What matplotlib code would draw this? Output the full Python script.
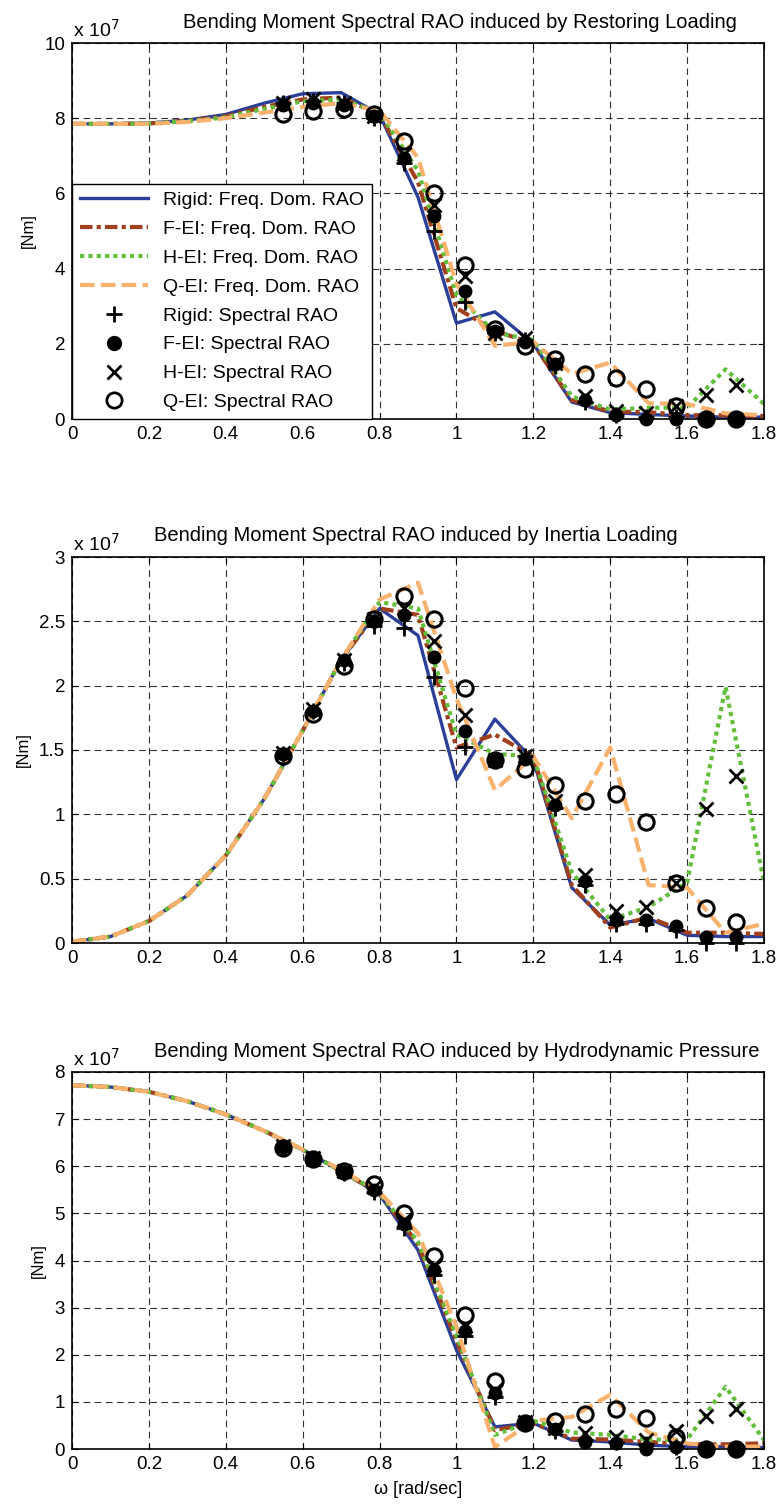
import numpy as np
import matplotlib.pyplot as plt
from matplotlib.lines import Line2D

plt.rcParams['font.family'] = ['Liberation Sans', 'DejaVu Sans']
plt.rcParams['axes.unicode_minus'] = False

# frequency-domain RAO curves (x 1e7 Nm)
w_freq = [0.0, 0.1, 0.2, 0.3, 0.4, 0.5, 0.6, 0.7, 0.8, 0.9,
          1.0, 1.1, 1.2, 1.3, 1.4, 1.5, 1.6, 1.7, 1.8]
# spectral RAO frequencies
w_spec = [0.550, 0.628, 0.707, 0.785, 0.864, 0.942, 1.021, 1.100,
          1.178, 1.257, 1.335, 1.414, 1.492, 1.571, 1.649, 1.728]

# --- restoring loading
rest_rigid = [7.85, 7.85, 7.87, 7.95, 8.1, 8.4, 8.65, 8.68, 8.1, 5.9,
              2.55, 2.85, 2.0, 0.45, 0.17, 0.12, 0.08, 0.05, 0.05]
rest_fei = [7.85, 7.85, 7.86, 7.93, 8.05, 8.3, 8.5, 8.55, 8.1, 6.3,
            2.95, 2.35, 2.0, 0.5, 0.2, 0.18, 0.1, 0.1, 0.08]
rest_hei = [7.85, 7.85, 7.86, 7.92, 8.02, 8.25, 8.45, 8.5, 8.15, 6.6,
            3.3, 2.3, 2.1, 0.6, 0.25, 0.3, 0.3, 1.32, 0.4]
rest_qei = [7.85, 7.85, 7.85, 7.9, 8.0, 8.15, 8.3, 8.4, 8.2, 6.95,
            3.6, 1.95, 2.05, 1.2, 1.5, 0.42, 0.4, 0.15, 0.1]
rest_rigid_s = [8.4, 8.45, 8.4, 8.0, 6.8, 5.0, 3.1, 2.3, 2.1, 1.4,
                0.45, 0.1, 0.05, 0.05, 0.0, 0.0]
rest_fei_s = [8.35, 8.4, 8.35, 8.05, 6.95, 5.4, 3.4, 2.35, 2.05, 1.45,
              0.5, 0.1, 0.0, 0.0, 0.0, 0.0]
rest_hei_s = [8.4, 8.5, 8.4, 8.05, 7.05, 5.7, 3.8, 2.3, 2.15, 1.5,
              0.6, 0.2, 0.15, 0.35, 0.65, 0.9]
rest_qei_s = [8.1, 8.2, 8.25, 8.1, 7.4, 6.0, 4.1, 2.4, 1.95, 1.6,
              1.2, 1.1, 0.8, 0.35, 0.0, 0.0]

# --- inertia loading
iner_rigid = [0.01, 0.05, 0.17, 0.37, 0.68, 1.12, 1.65, 2.2, 2.6, 2.39,
              1.27, 1.74, 1.42, 0.43, 0.14, 0.19, 0.06, 0.05, 0.05]
iner_fei = [0.01, 0.05, 0.17, 0.37, 0.68, 1.12, 1.65, 2.2, 2.6, 2.55,
            1.52, 1.62, 1.45, 0.45, 0.12, 0.2, 0.08, 0.08, 0.07]
iner_hei = [0.01, 0.05, 0.17, 0.37, 0.68, 1.12, 1.65, 2.2, 2.65, 2.6,
            1.62, 1.47, 1.45, 0.55, 0.18, 0.28, 0.47, 1.99, 0.47]
iner_qei = [0.01, 0.05, 0.17, 0.37, 0.68, 1.12, 1.65, 2.2, 2.67, 2.8,
            1.9, 1.19, 1.45, 0.97, 1.52, 0.45, 0.43, 0.08, 0.15]
iner_rigid_s = [1.47, 1.8, 2.18, 2.46, 2.45, 2.07, 1.52, 1.42, 1.45, 1.05,
                0.45, 0.15, 0.15, 0.1, 0.0, 0.0]
iner_fei_s = [1.47, 1.8, 2.2, 2.5, 2.55, 2.22, 1.65, 1.42, 1.43, 1.07,
              0.48, 0.18, 0.18, 0.13, 0.05, 0.05]
iner_hei_s = [1.48, 1.82, 2.2, 2.52, 2.6, 2.35, 1.77, 1.42, 1.45, 1.1,
              0.53, 0.25, 0.28, 0.47, 1.04, 1.3]
iner_qei_s = [1.45, 1.78, 2.15, 2.52, 2.7, 2.52, 1.98, 1.42, 1.35, 1.23,
              1.1, 1.16, 0.94, 0.47, 0.27, 0.16]

# --- hydrodynamic pressure
hyd_rigid = [7.72, 7.68, 7.58, 7.38, 7.1, 6.75, 6.35, 5.9, 5.4, 4.22,
             2.1, 0.47, 0.55, 0.19, 0.15, 0.08, 0.05, 0.05, 0.03]
hyd_fei = [7.72, 7.68, 7.58, 7.38, 7.1, 6.75, 6.35, 5.9, 5.42, 4.35,
           2.3, 0.4, 0.55, 0.22, 0.2, 0.15, 0.1, 0.1, 0.12]
hyd_hei = [7.72, 7.68, 7.58, 7.38, 7.1, 6.75, 6.35, 5.9, 5.43, 4.4,
           2.4, 0.3, 0.6, 0.35, 0.3, 0.2, 0.2, 1.32, 0.19]
hyd_qei = [7.72, 7.68, 7.58, 7.38, 7.1, 6.75, 6.36, 5.92, 5.45, 4.58,
           2.6, 0.04, 0.6, 0.68, 1.15, 0.35, 0.12, 0.05, 0.05]
hyd_rigid_s = [6.4, 6.15, 5.85, 5.45, 4.7, 3.7, 2.4, 1.1, 0.55, 0.38,
               0.2, 0.15, 0.1, 0.05, 0.0, 0.0]
hyd_fei_s = [6.4, 6.15, 5.88, 5.5, 4.78, 3.8, 2.5, 1.18, 0.55, 0.42,
             0.15, 0.12, 0.0, 0.05, 0.0, 0.0]
hyd_hei_s = [6.42, 6.18, 5.9, 5.55, 4.85, 3.9, 2.6, 1.25, 0.57, 0.45,
             0.35, 0.25, 0.2, 0.38, 0.7, 0.85]
hyd_qei_s = [6.38, 6.15, 5.9, 5.62, 5.0, 4.1, 2.85, 1.45, 0.55, 0.6,
             0.75, 0.85, 0.65, 0.25, 0.0, 0.0]

titles = ['Bending Moment Spectral RAO induced by Restoring Loading',
          'Bending Moment Spectral RAO induced by Inertia Loading',
          'Bending Moment Spectral RAO induced by Hydrodynamic Pressure']
ylims = [10, 3, 8]
yticks = [np.arange(0, 11, 2), np.arange(0, 3.01, 0.5), np.arange(0, 9, 1)]
ytick_labels = [['0', '2', '4', '6', '8', '10'],
                ['0', '0.5', '1', '1.5', '2', '2.5', '3'],
                ['0', '1', '2', '3', '4', '5', '6', '7', '8']]

c_blue = '#2b3f98'
c_brown = '#a1401c'
c_green = '#62bf3b'
c_orange = '#f9b26e'

# axes boxes in pixels: left, top, right, bottom
boxes = [(72, 43, 764, 419), (72, 557, 764, 943), (72, 1072, 764, 1449)]
title_x = [460, 416, 457]

panels = [
    (rest_rigid, rest_fei, rest_hei, rest_qei,
     rest_rigid_s, rest_fei_s, rest_hei_s, rest_qei_s),
    (iner_rigid, iner_fei, iner_hei, iner_qei,
     iner_rigid_s, iner_fei_s, iner_hei_s, iner_qei_s),
    (hyd_rigid, hyd_fei, hyd_hei, hyd_qei,
     hyd_rigid_s, hyd_fei_s, hyd_hei_s, hyd_qei_s),
]

W, H = 782, 1510
fig = plt.figure(figsize=(W / 100, H / 100), dpi=100)

for i, p in enumerate(panels):
    l, t, r, b = boxes[i]
    ax = fig.add_axes([l / W, 1 - b / H, (r - l) / W, (b - t) / H])
    f_r, f_f, f_h, f_q, s_r, s_f, s_h, s_q = p

    ax.plot(w_freq, f_r, color=c_blue, lw=2.4, ls='-')
    ax.plot(w_freq, f_f, color=c_brown, lw=3, ls=(0, (3, 1, 1, 1)))
    ax.plot(w_freq, f_h, color=c_green, lw=3, ls=(0, (1, 1)))
    ax.plot(w_freq, f_q, color=c_orange, lw=3, ls=(0, (3.5, 1.5)))

    # MATLAB style: markers are not clipped at the axes
    ax.plot(w_spec, s_r, ls='none', marker='+', ms=11, mew=2, color='k', clip_on=False)
    ax.plot(w_spec, s_f, ls='none', marker='o', ms=9, color='k', clip_on=False)
    ax.plot(w_spec, s_h, ls='none', marker='x', ms=10, mew=2, color='k', clip_on=False)
    ax.plot(w_spec, s_q, ls='none', marker='o', ms=11, mew=2.2, mfc='none', mec='k',
            clip_on=False)

    ax.set_xlim(0, 1.8)
    ax.set_ylim(0, ylims[i])
    ax.set_xticks(np.arange(0, 1.81, 0.2))
    ax.set_xticklabels(['0', '0.2', '0.4', '0.6', '0.8', '1', '1.2', '1.4', '1.6', '1.8'])
    ax.set_yticks(yticks[i])
    ax.set_yticklabels(ytick_labels[i])
    ax.tick_params(direction='in', top=True, right=True, labelsize=13.5, length=4, pad=5)
    ax.grid(True, color='#333333', ls=(0, (6, 4)), lw=0.8)
    for s in ax.spines.values():
        s.set_linewidth(1.2)
    ax.set_ylabel('[Nm]', fontsize=12, labelpad=6)

    ax.text(0.002, 1.005, r'x 10$^7$', transform=ax.transAxes,
            fontsize=14, ha='left', va='bottom')
    ax.text((title_x[i] - l) / (r - l), 1.03, titles[i], transform=ax.transAxes,
            fontsize=14.5, ha='center', va='bottom')

    if i == 0:
        handles = [
            Line2D([], [], color=c_blue, lw=2.4, ls='-'),
            Line2D([], [], color=c_brown, lw=3, ls=(0, (3, 1, 1, 1))),
            Line2D([], [], color=c_green, lw=3, ls=(0, (1, 1))),
            Line2D([], [], color=c_orange, lw=3, ls=(0, (3.5, 1.5))),
            Line2D([], [], ls='none', marker='+', ms=11, mew=2, color='k'),
            Line2D([], [], ls='none', marker='o', ms=10, color='k'),
            Line2D([], [], ls='none', marker='x', ms=10, mew=2, color='k'),
            Line2D([], [], ls='none', marker='o', ms=11, mew=2, mfc='none', mec='k'),
        ]
        labels = ['Rigid: Freq. Dom. RAO', 'F-EI: Freq. Dom. RAO',
                  'H-EI: Freq. Dom. RAO', 'Q-EI: Freq. Dom. RAO',
                  'Rigid: Spectral RAO', 'F-EI: Spectral RAO',
                  'H-EI: Spectral RAO', 'Q-EI: Spectral RAO']
        leg = ax.legend(handles, labels, loc='lower left', borderaxespad=0,
                        fancybox=False, edgecolor='k', framealpha=1,
                        handlelength=3.5, labelspacing=0.58,
                        prop={'size': 14})
        leg.get_frame().set_linewidth(1.0)
        leg.set_zorder(5)

    if i == 2:
        ax.set_xlabel('ω [rad/sec]', fontsize=13, labelpad=6)

fig.savefig('out.png', dpi=100)
